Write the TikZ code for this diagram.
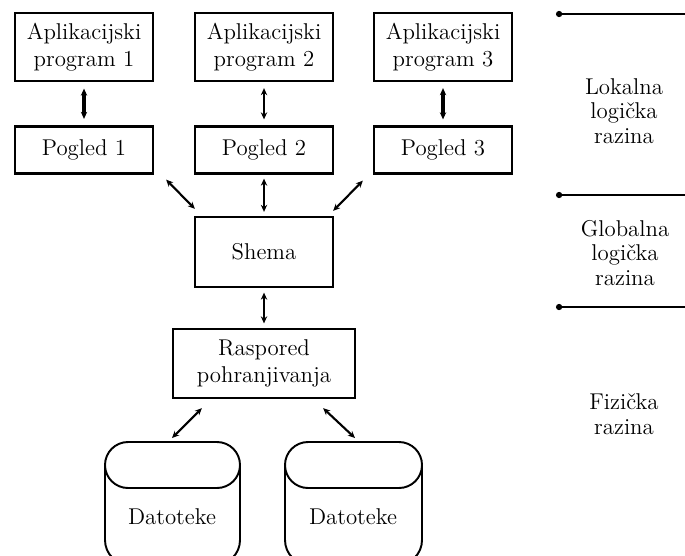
\documentclass[tikz,border=0pt]{standalone}
\usepackage{tikz}
\usetikzlibrary{arrows.meta, positioning, calc}

\begin{document}
\begin{tikzpicture}[x=0.02cm, y=-0.02cm, >={Stealth[length=4pt, width=3.6pt]},
    box/.style={draw, line width=1.3pt, align=center, inner sep=1pt,
      font=\fontsize{13}{15.5}\selectfont},
    appbox/.style={box, minimum width=2.76cm, minimum height=1.36cm},
    viewbox/.style={box, minimum width=2.76cm, minimum height=0.94cm},
    link/.style={<->, line width=0.9pt},
    thicklink/.style={<->, line width=1.9pt},
    level/.style={align=center, font=\fontsize{13}{14}\selectfont},
    sep/.style={line width=1pt, {Circle[length=3.5pt]}-},
    drum/.style={line width=1.1pt}]
  \useasboundingbox (0,0) rectangle (685,555);

  % lokalna razina
  \node[appbox] (app1) at (84,47) {Aplikacijski\\program 1};
  \node[appbox] (app2) at (264,47) {Aplikacijski\\program 2};
  \node[appbox] (app3) at (443,47) {Aplikacijski\\program 3};
  \node[viewbox] (view1) at (84,150) {Pogled 1};
  \node[viewbox] (view2) at (264,150) {Pogled 2};
  \node[viewbox] (view3) at (443,150) {Pogled 3};

  % globalna i fizicka razina
  \node[box, minimum width=2.76cm, minimum height=1.4cm] (shema) at (264,252) {Shema};
  \node[box, minimum width=3.64cm, minimum height=1.38cm] (rasp) at (264,363.5) {Raspored\\pohranjivanja};

  \draw[thicklink, shorten <=0.13cm, shorten >=0.13cm] (app1) -- (view1);
  \draw[link, shorten <=0.12cm, shorten >=0.12cm] (app2) -- (view2);
  \draw[thicklink, shorten <=0.12cm, shorten >=0.12cm] (app3) -- (view3);
  \draw[link, line width=1.2pt] ($(view1.south east)+(12,5)$) -- ($(shema.north west)+(1,-7)$);
  \draw[link, shorten <=0.08cm, shorten >=0.08cm] (view2) -- (shema);
  \draw[link, line width=1.2pt] ($(view3.south west)+(-10,6)$) -- ($(shema.north east)+(-1,-5)$);
  \draw[link, shorten <=0.09cm, shorten >=0.09cm] (shema) -- (rasp);

  % datoteke
  \coordinate (drum1) at (172,438);
  \coordinate (drum2) at (355,438);
  \begin{scope}
    \clip (0,0) rectangle (685,555);
    \foreach \xl/\xr in {105/240, 285/422} {
      \draw[drum, rounded corners=0.46cm] (\xl,442) rectangle (\xr,488);
      \draw[drum, rounded corners=0.5cm] (\xl,465) -- (\xl,565) -- (\xr,565) -- (\xr,465);
    }
  \end{scope}
  \node[level] (dat1) at (172,517) {Datoteke};
  \node[level] (dat2) at (353,517) {Datoteke};
  \draw[link, line width=1.2pt] ($(rasp.south west)+(30,9)$) -- (drum1);
  \draw[link, line width=1.2pt] ($(rasp.south east)+(-33,9)$) -- (drum2);

  % razine
  \draw[sep] (556,14) -- (685,14);
  \draw[sep] (556,195) -- (685,195);
  \draw[sep] (556,307) -- (685,307);
  \node[level] (lvl1) at (624,111) {Lokalna\\logička\\razina};
  \node[level] (lvl2) at (625,253) {Globalna\\logička\\razina};
  \node[level] (lvl3) at (624,414) {Fizička\\razina};
\end{tikzpicture}
\end{document}
